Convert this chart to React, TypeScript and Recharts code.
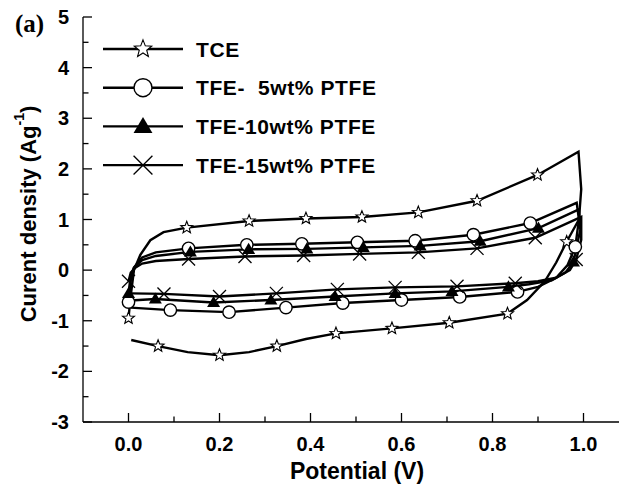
import React from 'react';
import { LineChart, Line, XAxis, YAxis, Customized } from 'recharts';

type Pt = { v: number; c: number; m?: boolean };

// potential (V) vs current density (A/g); m marks points carrying a symbol
const tce: Pt[] = [
  { v: 0.0, c: -0.95, m: true }, { v: 0.005, c: -0.5 }, { v: 0.012, c: 0.0 }, { v: 0.026, c: 0.3 },
  { v: 0.048, c: 0.59 }, { v: 0.077, c: 0.75 }, { v: 0.128, c: 0.84, m: true }, { v: 0.265, c: 0.97, m: true },
  { v: 0.39, c: 1.02, m: true }, { v: 0.513, c: 1.05, m: true }, { v: 0.637, c: 1.14, m: true },
  { v: 0.766, c: 1.37, m: true }, { v: 0.899, c: 1.88, m: true }, { v: 0.989, c: 2.34 },
  { v: 0.995, c: 1.6 }, { v: 0.99, c: 1.0 }, { v: 0.963, c: 0.56, m: true }, { v: 0.94, c: 0.15 },
  { v: 0.915, c: -0.22 }, { v: 0.876, c: -0.59 }, { v: 0.833, c: -0.86, m: true },
  { v: 0.705, c: -1.04, m: true }, { v: 0.579, c: -1.15, m: true }, { v: 0.456, c: -1.25, m: true },
  { v: 0.39, c: -1.36 }, { v: 0.326, c: -1.5, m: true }, { v: 0.265, c: -1.62 }, { v: 0.2, c: -1.68, m: true },
  { v: 0.13, c: -1.62 }, { v: 0.065, c: -1.5, m: true }, { v: 0.006, c: -1.38 },
];

const tfe5: Pt[] = [
  { v: 0.0, c: -0.63, m: true }, { v: 0.005, c: -0.2 }, { v: 0.012, c: 0.05 }, { v: 0.03, c: 0.25 },
  { v: 0.06, c: 0.35 }, { v: 0.132, c: 0.43, m: true }, { v: 0.26, c: 0.5, m: true }, { v: 0.381, c: 0.52, m: true },
  { v: 0.503, c: 0.55, m: true }, { v: 0.63, c: 0.58, m: true }, { v: 0.758, c: 0.7, m: true },
  { v: 0.883, c: 0.93, m: true }, { v: 0.985, c: 1.33 }, { v: 0.99, c: 1.0 }, { v: 0.982, c: 0.46, m: true },
  { v: 0.965, c: 0.1 }, { v: 0.94, c: -0.15 }, { v: 0.9, c: -0.33 }, { v: 0.855, c: -0.43, m: true },
  { v: 0.728, c: -0.53, m: true }, { v: 0.6, c: -0.59, m: true }, { v: 0.471, c: -0.65, m: true },
  { v: 0.346, c: -0.74, m: true }, { v: 0.221, c: -0.83, m: true }, { v: 0.092, c: -0.79, m: true },
  { v: 0.005, c: -0.74 },
];

const tfe10: Pt[] = [
  { v: 0.0, c: -0.46, m: true }, { v: 0.005, c: -0.1 }, { v: 0.012, c: 0.05 }, { v: 0.03, c: 0.2 },
  { v: 0.06, c: 0.28 }, { v: 0.136, c: 0.36, m: true }, { v: 0.264, c: 0.41, m: true }, { v: 0.392, c: 0.42, m: true },
  { v: 0.516, c: 0.45, m: true }, { v: 0.641, c: 0.48, m: true }, { v: 0.773, c: 0.57, m: true },
  { v: 0.901, c: 0.83, m: true }, { v: 0.99, c: 1.2 }, { v: 0.993, c: 0.8 }, { v: 0.978, c: 0.16, m: true },
  { v: 0.96, c: -0.05 }, { v: 0.93, c: -0.2 }, { v: 0.88, c: -0.28 }, { v: 0.835, c: -0.33, m: true },
  { v: 0.711, c: -0.42, m: true }, { v: 0.586, c: -0.46, m: true }, { v: 0.454, c: -0.52, m: true },
  { v: 0.313, c: -0.59, m: true }, { v: 0.187, c: -0.64, m: true }, { v: 0.059, c: -0.57, m: true },
  { v: 0.005, c: -0.6 },
];

const tfe15: Pt[] = [
  { v: 0.0, c: -0.22, m: true }, { v: 0.005, c: -0.05 }, { v: 0.015, c: 0.05 }, { v: 0.03, c: 0.13 },
  { v: 0.06, c: 0.18 }, { v: 0.132, c: 0.22, m: true }, { v: 0.256, c: 0.27, m: true }, { v: 0.385, c: 0.29, m: true },
  { v: 0.508, c: 0.32, m: true }, { v: 0.637, c: 0.35, m: true }, { v: 0.766, c: 0.43, m: true },
  { v: 0.894, c: 0.64, m: true }, { v: 0.995, c: 1.05 }, { v: 0.995, c: 0.6 }, { v: 0.984, c: 0.21, m: true },
  { v: 0.97, c: 0.0 }, { v: 0.94, c: -0.15 }, { v: 0.9, c: -0.22 }, { v: 0.85, c: -0.26, m: true },
  { v: 0.722, c: -0.32, m: true }, { v: 0.586, c: -0.34, m: true }, { v: 0.459, c: -0.38, m: true },
  { v: 0.325, c: -0.46, m: true }, { v: 0.2, c: -0.52, m: true }, { v: 0.078, c: -0.47, m: true },
  { v: 0.005, c: -0.46 },
];

const xTicks = [0, 0.1, 0.2, 0.3, 0.4, 0.5, 0.6, 0.7, 0.8, 0.9, 1.0];
const yTicks = [-3, -2.5, -2, -1.5, -1, -0.5, 0, 0.5, 1, 1.5, 2, 2.5, 3, 3.5, 4, 4.5, 5];

const series = [
  { name: 'TCE', data: tce, shape: 'star' },
  { name: 'TFE-\u00a0 5wt% PTFE', data: tfe5, shape: 'circle' },
  { name: 'TFE-10wt% PTFE', data: tfe10, shape: 'triangle' },
  { name: 'TFE-15wt% PTFE', data: tfe15, shape: 'cross' },
];

const FONT = '"Liberation Sans", Arial, sans-serif';

const Marker = ({ shape, x, y, s = 1 }: { shape: string; x: number; y: number; s?: number }) => {
  if (shape === 'star') {
    const pts: string[] = [];
    for (let i = 0; i < 10; i++) {
      const a = (-90 + i * 36) * Math.PI / 180;
      const r = (i % 2 ? 2.7 : 6.3) * s;
      pts.push(`${x + r * Math.cos(a)},${y + r * Math.sin(a)}`);
    }
    return <polygon points={pts.join(' ')} fill="#fff" stroke="#000" strokeWidth={1.1} />;
  }
  if (shape === 'circle') return <circle cx={x} cy={y} r={6.2 * s} fill="#fff" stroke="#000" strokeWidth={1.4} />;
  if (shape === 'triangle') {
    const h = 6.5 * s;
    return <polygon points={`${x},${y - h} ${x - h},${y + h * 0.7} ${x + h},${y + h * 0.7}`} fill="#000" />;
  }
  const d = 6.5 * s;
  return (
    <g stroke="#000" strokeWidth={1.3}>
      <line x1={x - d} y1={y - d} x2={x + d} y2={y + d} />
      <line x1={x - d} y1={y + d} x2={x + d} y2={y - d} />
    </g>
  );
};

const BottomTick = (props: any) => {
  const { x, y, payload } = props;
  const major = Math.round(payload.value * 10) % 2 === 0;
  return (
    <g>
      <line x1={x} y1={y} x2={x} y2={y - (major ? 9 : 5.5)} stroke="#000" strokeWidth={1.3} />
      {major && (
        <text x={x} y={y + 29} textAnchor="middle" fontFamily={FONT} fontWeight="bold" fontSize={20} fill="#000">
          {payload.value.toFixed(1)}
        </text>
      )}
    </g>
  );
};

const TopTick = (props: any) => {
  const { x, y, payload } = props;
  const major = Math.round(payload.value * 10) % 2 === 0;
  return <line x1={x} y1={y} x2={x} y2={y + (major ? 9 : 5.5)} stroke="#000" strokeWidth={1.3} />;
};

const LeftTick = (props: any) => {
  const { x, y, payload } = props;
  const major = Number.isInteger(payload.value);
  return (
    <g>
      <line x1={x} y1={y} x2={x + (major ? 9 : 5.5)} y2={y} stroke="#000" strokeWidth={1.3} />
      {major && (
        <text x={x - 14} y={y + 7} textAnchor="end" fontFamily={FONT} fontWeight="bold" fontSize={20} fill="#000">
          {payload.value}
        </text>
      )}
    </g>
  );
};

const RightTick = (props: any) => {
  const { x, y, payload } = props;
  const major = Number.isInteger(payload.value);
  return <line x1={x} y1={y} x2={x - (major ? 9 : 5.5)} y2={y} stroke="#000" strokeWidth={1.3} />;
};

const Extras = () => (
  <g fontFamily={FONT} fontWeight="bold" fill="#000">
    <text x={15} y={32} fontFamily='"Liberation Serif", "Times New Roman", serif' fontSize={25}>(a)</text>
    {series.map((s, i) => {
      const y = 49 + i * 38.7;
      return (
        <g key={s.name}>
          <line x1={103} y1={y} x2={183} y2={y} stroke="#000" strokeWidth={2.4} />
          <Marker shape={s.shape} x={143} y={y} s={1.45} />
          <text x={196} y={y + 7.5} fontSize={21} letterSpacing={0.6} style={{ whiteSpace: 'pre' }}>{s.name}</text>
        </g>
      );
    })}
    <text x={357} y={479} textAnchor="middle" fontSize={23}>Potential (V)</text>
    <text x={28} y={214} textAnchor="middle" dominantBaseline="central" fontSize={22} transform="rotate(-90, 28, 214)">
      Curent density (Ag<tspan dy={-9} fontSize={14}>-1</tspan><tspan dy={9}>)</tspan>
    </text>
  </g>
);

export default function App() {
  return (
    <div style={{ position: 'absolute', left: 0, top: 0, width: 619, height: 485, overflow: 'hidden', background: '#fff' }}>
      <LineChart width={640} height={485} margin={{ top: 17, right: 11, bottom: 0, left: 0 }}>
        <XAxis xAxisId="b" type="number" dataKey="v" domain={[-0.1, 1.1]} ticks={xTicks} interval={0}
          allowDataOverflow height={63} tickSize={0} tickMargin={0} tick={<BottomTick />}
          axisLine={{ stroke: '#000', strokeWidth: 1.3 }} />
        <XAxis xAxisId="t" orientation="top" type="number" dataKey="v" domain={[-0.1, 1.1]} ticks={xTicks} interval={0}
          allowDataOverflow height={0} tickSize={0} tickMargin={0} tick={<TopTick />}
          axisLine={{ stroke: '#000', strokeWidth: 1.3 }} />
        <YAxis yAxisId="l" type="number" domain={[-3, 5]} ticks={yTicks} interval={0} width={83}
          tickSize={0} tickMargin={0} tick={<LeftTick />} axisLine={{ stroke: '#000', strokeWidth: 1.3 }} />
        <YAxis yAxisId="r" orientation="right" type="number" domain={[-3, 5]} ticks={yTicks} interval={0} width={0}
          tickSize={0} tickMargin={0} tick={<RightTick />} axisLine={{ stroke: '#000', strokeWidth: 1.3 }} />
        {series.map((s) => (
          <Line key={s.name} xAxisId="b" yAxisId="l" data={s.data} dataKey="c" type="linear"
            stroke="#000" strokeWidth={2.4} isAnimationActive={false}
            dot={(p: any) => p.payload.m
              ? <g key={`${s.name}-${p.index}`}><Marker shape={s.shape} x={p.cx} y={p.cy} /></g>
              : <g key={`${s.name}-${p.index}`} />}
            activeDot={false} />
        ))}
        <Customized component={Extras} />
      </LineChart>
    </div>
  );
}
